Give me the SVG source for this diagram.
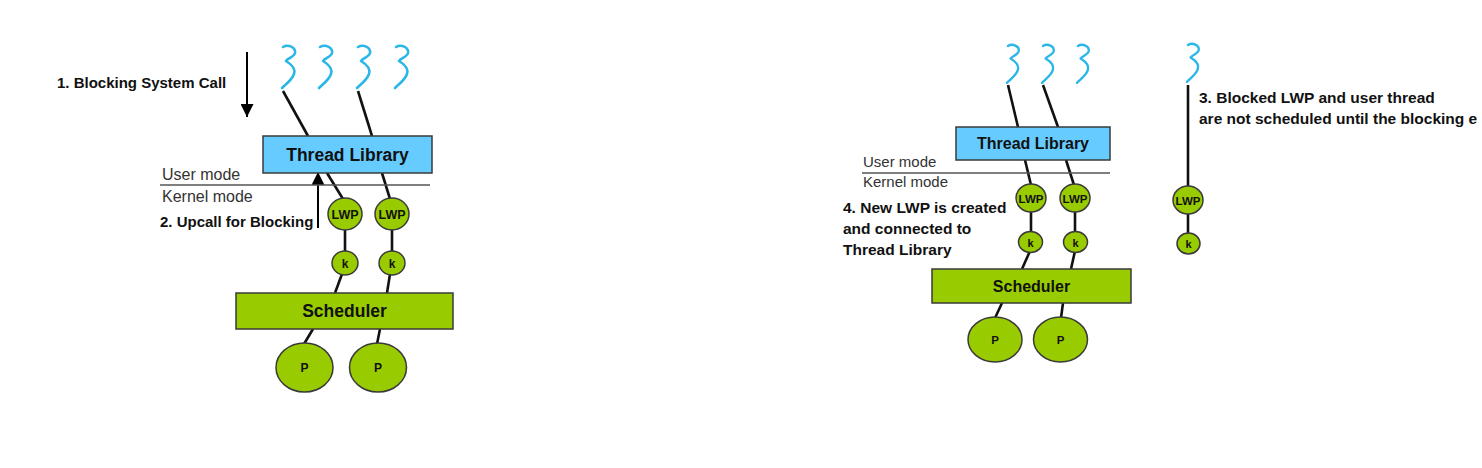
<svg xmlns="http://www.w3.org/2000/svg" xmlns:xlink="http://www.w3.org/1999/xlink" width="1482" height="468" viewBox="0 0 1482 468">
<style>
.bg{fill:#ffffff}
.thr{fill:none;stroke:#2bb6e8;stroke-width:2.6;stroke-linecap:round;stroke-linejoin:round}
.tl{fill:#66ccff;stroke:#3a3a3a;stroke-width:1.5}
.gr{fill:#99cc00;stroke:#3a3a3a;stroke-width:1.5}
.con{stroke:#111;stroke-width:2.6;fill:none}
.arr{stroke:#000;stroke-width:2;fill:none}
.sep{stroke:#555;stroke-width:1.5}
.b{font-family:"Liberation Sans",Arial,sans-serif;font-weight:bold;fill:#111}
.m{font-family:"Liberation Sans",Arial,sans-serif;fill:#333}
.c{text-anchor:middle}
</style>
<defs>
<path id="sq" class="thr" d="M1,1 C6,-2 14,1 13,7 C12,11 6,12 4,15 C9,18 14,22 12,28 C10,34 4,38 0,42"/>
<marker id="ah" viewBox="0 0 13 13" refX="13" refY="6.5" markerWidth="13" markerHeight="13" markerUnits="userSpaceOnUse" orient="auto">
<path d="M0,0 L13,6.5 L0,13 z" fill="#000"/>
</marker>
</defs>
<rect class="bg" x="0" y="0" width="1482" height="468"/>

<g id="connectors">
<line class="con" x1="283" y1="91" x2="308" y2="136"/>
<line class="con" x1="358" y1="91" x2="372" y2="136"/>
<line class="con" x1="327" y1="173" x2="343" y2="199"/>
<line class="con" x1="382" y1="173" x2="390" y2="199"/>
<line class="con" x1="345" y1="229" x2="345" y2="252"/>
<line class="con" x1="392" y1="229" x2="392" y2="252"/>
<line class="con" x1="342" y1="274" x2="335" y2="293"/>
<line class="con" x1="390" y1="274" x2="387" y2="293"/>
<line class="con" x1="313" y1="329" x2="304" y2="344"/>
<line class="con" x1="380" y1="329" x2="377" y2="344"/>
<line class="con" x1="1008" y1="85" x2="1018" y2="127"/>
<line class="con" x1="1043" y1="85" x2="1058" y2="127"/>
<line class="con" x1="1025" y1="160" x2="1031" y2="185"/>
<line class="con" x1="1066" y1="160" x2="1074" y2="185"/>
<line class="con" x1="1031" y1="211" x2="1031" y2="233"/>
<line class="con" x1="1075" y1="211" x2="1075" y2="233"/>
<line class="con" x1="1030" y1="251" x2="1022" y2="269"/>
<line class="con" x1="1075" y1="251" x2="1071" y2="269"/>
<line class="con" x1="1002" y1="303" x2="995" y2="318"/>
<line class="con" x1="1063" y1="303" x2="1061" y2="318"/>
<line class="con" x1="1188" y1="85" x2="1188" y2="187"/>
<line class="con" x1="1188" y1="213" x2="1188" y2="234"/>
<line class="arr" x1="247" y1="52" x2="247" y2="117" marker-end="url(#ah)"/>
<line class="arr" x1="318" y1="228" x2="318" y2="172" marker-end="url(#ah)"/>
</g>

<g id="left-threads">
<use xlink:href="#sq" transform="translate(282,46)"/>
<use xlink:href="#sq" transform="translate(319,46)"/>
<use xlink:href="#sq" transform="translate(357,46)"/>
<use xlink:href="#sq" transform="translate(395,46)"/>
</g>
<g id="left-thread-library">
<rect class="tl" x="263" y="136" width="169" height="37"/>
<text class="b c" x="347.5" y="161" font-size="17.5">Thread Library</text>
</g>
<g id="left-mode">
<text class="m" x="162" y="180" font-size="16">User mode</text>
<line class="sep" x1="160" y1="185" x2="430" y2="185"/>
<text class="m" x="162" y="202" font-size="16">Kernel mode</text>
</g>
<g id="left-lwp1"><ellipse class="gr" cx="345" cy="214" rx="17" ry="16"/><text class="b c" x="345" y="219" font-size="12.5">LWP</text></g>
<g id="left-lwp2"><ellipse class="gr" cx="392" cy="214" rx="17" ry="16"/><text class="b c" x="392" y="219" font-size="12.5">LWP</text></g>
<g id="left-k1"><ellipse class="gr" cx="345" cy="263" rx="13" ry="12"/><text class="b c" x="345" y="268" font-size="12">k</text></g>
<g id="left-k2"><ellipse class="gr" cx="392" cy="263" rx="13" ry="12"/><text class="b c" x="392" y="268" font-size="12">k</text></g>
<g id="left-scheduler">
<rect class="gr" x="236" y="293" width="217" height="36"/>
<text class="b c" x="344.5" y="317" font-size="17.5">Scheduler</text>
</g>
<g id="left-p1"><ellipse class="gr" cx="304.5" cy="367.5" rx="28.5" ry="24.5"/><text class="b c" x="304.5" y="372" font-size="12">P</text></g>
<g id="left-p2"><ellipse class="gr" cx="378" cy="367.5" rx="28.5" ry="24.5"/><text class="b c" x="378" y="372" font-size="12">P</text></g>
<g id="label-1"><text class="b" x="57" y="88" font-size="15">1. Blocking System Call</text></g>
<g id="label-2"><text class="b" x="160" y="227" font-size="15">2. Upcall for Blocking</text></g>

<g id="right-threads">
<use xlink:href="#sq" transform="translate(1007,45) scale(0.9)"/>
<use xlink:href="#sq" transform="translate(1042,45) scale(0.9)"/>
<use xlink:href="#sq" transform="translate(1077,45) scale(0.9)"/>
<use xlink:href="#sq" transform="translate(1187,44) scale(0.9)"/>
</g>
<g id="right-thread-library">
<rect class="tl" x="956" y="127" width="154" height="33"/>
<text class="b c" x="1033" y="149" font-size="16">Thread Library</text>
</g>
<g id="right-mode">
<text class="m" x="863" y="167" font-size="15">User mode</text>
<line class="sep" x1="862" y1="173" x2="1110" y2="173"/>
<text class="m" x="863" y="187" font-size="15">Kernel mode</text>
</g>
<g id="right-lwp1"><ellipse class="gr" cx="1031" cy="198" rx="15" ry="14"/><text class="b c" x="1031" y="202.5" font-size="11.5">LWP</text></g>
<g id="right-lwp2"><ellipse class="gr" cx="1075" cy="198" rx="15" ry="14"/><text class="b c" x="1075" y="202.5" font-size="11.5">LWP</text></g>
<g id="right-k1"><ellipse class="gr" cx="1030.5" cy="242" rx="12" ry="10.5"/><text class="b c" x="1030.5" y="246.5" font-size="11">k</text></g>
<g id="right-k2"><ellipse class="gr" cx="1075.5" cy="242" rx="12" ry="10.5"/><text class="b c" x="1075.5" y="246.5" font-size="11">k</text></g>
<g id="right-scheduler">
<rect class="gr" x="932" y="269" width="199" height="34"/>
<text class="b c" x="1031.5" y="292" font-size="16">Scheduler</text>
</g>
<g id="right-p1"><ellipse class="gr" cx="995" cy="339.5" rx="27" ry="22.5"/><text class="b c" x="995" y="344" font-size="11.5">P</text></g>
<g id="right-p2"><ellipse class="gr" cx="1060.5" cy="339.5" rx="27" ry="22.5"/><text class="b c" x="1060.5" y="344" font-size="11.5">P</text></g>
<g id="right-lwp3"><ellipse class="gr" cx="1188" cy="200" rx="15" ry="14"/><text class="b c" x="1188" y="204.5" font-size="11.5">LWP</text></g>
<g id="right-k3"><ellipse class="gr" cx="1188.5" cy="243.5" rx="11.5" ry="10.5"/><text class="b c" x="1188.5" y="248" font-size="11">k</text></g>
<g id="label-3">
<text class="b" x="1199" y="103" font-size="15.5">3. Blocked LWP and user thread</text>
<text class="b" x="1199" y="124" font-size="15.5">are not scheduled until the blocking e</text>
</g>
<g id="label-4">
<text class="b" x="843" y="213" font-size="15.5">4. New LWP is created</text>
<text class="b" x="843" y="234" font-size="15.5">and connected to</text>
<text class="b" x="843" y="255" font-size="15.5">Thread Library</text>
</g>
</svg>
